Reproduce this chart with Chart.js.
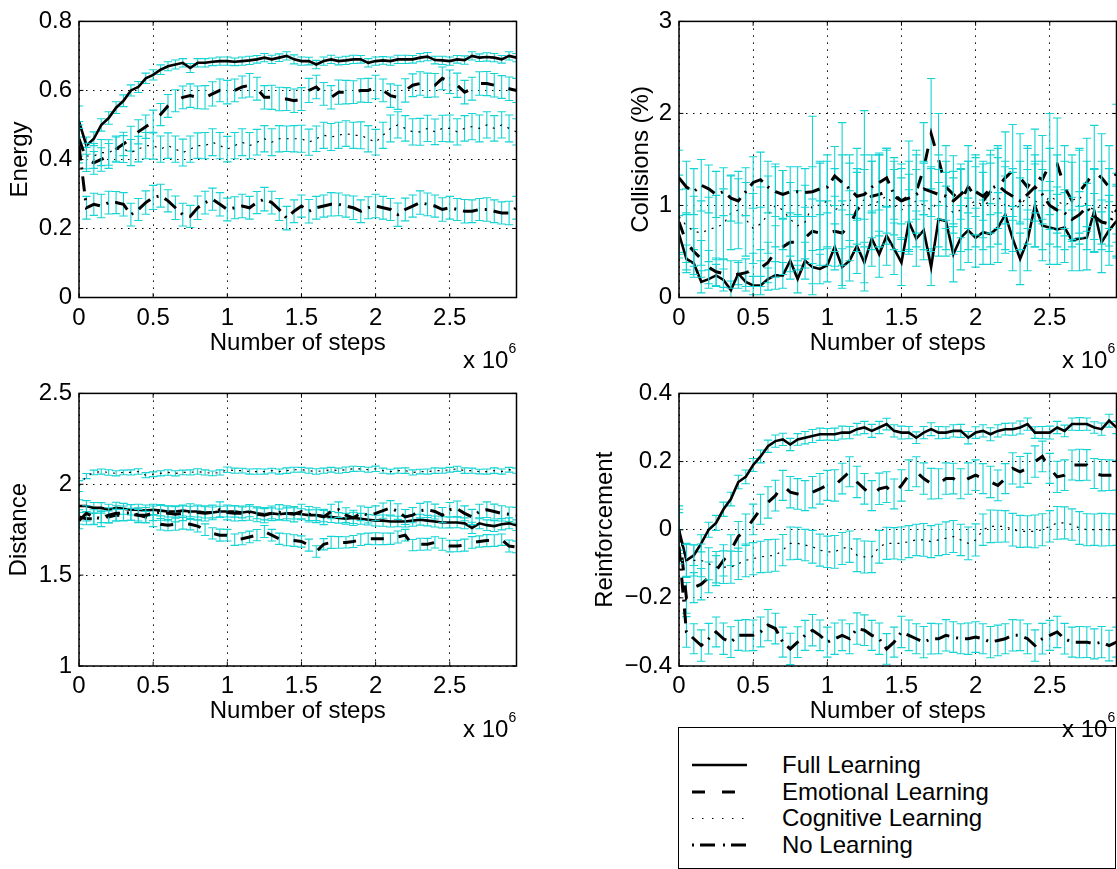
<!DOCTYPE html>
<html>
<head>
<meta charset="utf-8">
<script src="https://cdn.jsdelivr.net/npm/chart.js@4.4.1/dist/chart.umd.min.js"></script>
<style>
body { margin: 0; width: 1117px; height: 869px; overflow: hidden; position: relative; background: #fff;
       font-family: "Liberation Sans", Arial, sans-serif; color: #000; }
canvas { position: absolute; }
.exp { position: absolute; font-size: 24px; line-height: 27px; white-space: nowrap; }
.exp .sup { font-size: 14px; position: relative; top: -15px; }
#legend { position: absolute; left: 678px; top: 727px; width: 436px; height: 140px; border: 1px solid #000; background: #fff; }
.lg { position: absolute; left: 782px; font-size: 24px; line-height: 26.7px; white-space: nowrap; }
</style>
</head>
<body>
<canvas id="c1" width="540" height="372" style="left:0;top:0"></canvas>
<canvas id="c2" width="557" height="372" style="left:560px;top:0"></canvas>
<canvas id="c3" width="540" height="369" style="left:0;top:372px"></canvas>
<canvas id="c4" width="557" height="369" style="left:560px;top:372px"></canvas>

<div id="legend"></div>
<canvas id="lgLines" width="70" height="110" style="left:685px;top:750px"></canvas>
<div class="lg" style="top:751.7px">Full Learning</div>
<div class="lg" style="top:778.5px">Emotional Learning</div>
<div class="lg" style="top:805.2px">Cognitive Learning</div>
<div class="lg" style="top:831.8px">No Learning</div>

<div class="exp" style="left:463px;top:346px">x 10<span class="sup">6</span></div>
<div class="exp" style="left:1062px;top:346px">x 10<span class="sup">6</span></div>
<div class="exp" style="left:463px;top:715px">x 10<span class="sup">6</span></div>
<div class="exp" style="left:1062px;top:715px">x 10<span class="sup">6</span></div>

<script>
// x values in units of 10^6 steps
const steps = [0,0.05,0.1,0.15,0.2,0.25,0.3,0.35,0.4,0.45,0.5,0.55,0.6,0.65,0.7,0.75,0.8,0.85,0.9,0.95,
  1,1.05,1.1,1.15,1.2,1.25,1.3,1.35,1.4,1.45,1.5,1.55,1.6,1.65,1.7,1.75,1.8,1.85,1.9,1.95,
  2,2.05,2.1,2.15,2.2,2.25,2.3,2.35,2.4,2.45,2.5,2.55,2.6,2.65,2.7,2.75,2.8,2.85,2.9,2.95];
const xTicks = [0, 0.5, 1, 1.5, 2, 2.5];
const energyTicks = [0, 0.2, 0.4, 0.6, 0.8];
const collTicks = [0, 1, 2, 3];
const distTicks = [1, 1.5, 2, 2.5];
const reinfTicks = [-0.4, -0.2, 0, 0.2, 0.4];
const seriesNames = ["Full Learning", "Emotional Learning", "Cognitive Learning", "No Learning"];

// Energy
const energyFull = [0.51,0.44,0.46,0.50,0.52,0.55,0.57,0.60,0.61,0.635,0.645,0.66,0.67,0.675,0.68,0.665,0.68,0.68,0.683,0.685,
  0.685,0.683,0.685,0.687,0.69,0.695,0.69,0.695,0.70,0.69,0.685,0.685,0.675,0.685,0.69,0.685,0.687,0.69,0.69,0.68,
  0.685,0.687,0.685,0.69,0.69,0.69,0.695,0.698,0.688,0.687,0.685,0.69,0.688,0.70,0.695,0.697,0.695,0.69,0.70,0.695];
const energyEmo = [0.46,0.40,0.39,0.40,0.41,0.43,0.445,0.46,0.48,0.495,0.51,0.53,0.555,0.57,0.58,0.585,0.58,0.58,0.59,0.60,
  0.595,0.60,0.61,0.615,0.605,0.58,0.58,0.575,0.575,0.57,0.575,0.60,0.61,0.59,0.58,0.595,0.595,0.595,0.60,0.60,
  0.61,0.60,0.585,0.58,0.60,0.615,0.62,0.615,0.615,0.635,0.625,0.615,0.595,0.605,0.62,0.62,0.615,0.61,0.605,0.60];
const energyCog = [0.45,0.41,0.41,0.42,0.42,0.43,0.43,0.42,0.43,0.44,0.44,0.43,0.44,0.43,0.42,0.43,0.44,0.44,0.45,0.44,
  0.43,0.44,0.45,0.44,0.45,0.46,0.45,0.46,0.46,0.46,0.46,0.45,0.46,0.47,0.465,0.47,0.475,0.47,0.47,0.46,
  0.45,0.47,0.49,0.50,0.49,0.48,0.48,0.49,0.48,0.49,0.49,0.48,0.49,0.495,0.49,0.50,0.49,0.50,0.49,0.48];
const energyNone = [0.44,0.26,0.27,0.265,0.275,0.275,0.27,0.24,0.255,0.275,0.29,0.295,0.28,0.26,0.24,0.235,0.26,0.275,0.285,0.27,
  0.255,0.26,0.265,0.26,0.275,0.285,0.275,0.255,0.23,0.25,0.265,0.25,0.26,0.265,0.27,0.27,0.265,0.26,0.25,0.26,
  0.265,0.26,0.255,0.24,0.255,0.265,0.275,0.27,0.265,0.255,0.26,0.255,0.25,0.25,0.255,0.255,0.25,0.245,0.245,0.26];
const energyFullErr = [0.045,0.025,0.02,0.018,0.018,0.017,0.017,0.016,0.016,0.015,0.015,0.014,0.013,0.013,0.012,0.013,0.012,0.012,0.011,0.012,
  0.012,0.011,0.012,0.012,0.011,0.012,0.012,0.011,0.012,0.013,0.012,0.011,0.012,0.012,0.012,0.011,0.012,0.012,0.011,0.012,
  0.012,0.011,0.012,0.012,0.012,0.011,0.012,0.012,0.011,0.012,0.012,0.011,0.012,0.012,0.011,0.012,0.012,0.011,0.012,0.012];
const energyEmoErr = [0.05,0.035,0.033,0.034,0.036,0.035,0.034,0.036,0.035,0.034,0.033,0.032,0.033,0.032,0.033,0.034,0.033,0.034,0.035,0.033,
  0.034,0.033,0.032,0.034,0.033,0.034,0.035,0.034,0.033,0.034,0.033,0.035,0.034,0.033,0.034,0.035,0.034,0.033,0.034,0.035,
  0.034,0.033,0.034,0.035,0.034,0.033,0.034,0.035,0.034,0.033,0.034,0.035,0.034,0.033,0.034,0.035,0.034,0.033,0.034,0.035];
const energyCogErr = [0.05,0.037,0.036,0.038,0.037,0.038,0.039,0.038,0.037,0.038,0.039,0.038,0.037,0.038,0.039,0.038,0.037,0.038,0.039,0.038,
  0.037,0.038,0.039,0.038,0.037,0.038,0.039,0.038,0.037,0.038,0.039,0.038,0.037,0.038,0.039,0.038,0.037,0.038,0.039,0.038,
  0.037,0.038,0.039,0.038,0.037,0.038,0.039,0.038,0.037,0.038,0.039,0.038,0.037,0.038,0.039,0.038,0.037,0.038,0.039,0.038];
const energyNoneErr = [0.05,0.033,0.032,0.034,0.033,0.032,0.034,0.033,0.032,0.034,0.035,0.033,0.032,0.034,0.033,0.032,0.034,0.033,0.032,0.034,
  0.033,0.032,0.034,0.033,0.032,0.034,0.033,0.032,0.034,0.033,0.032,0.034,0.033,0.032,0.034,0.033,0.032,0.034,0.033,0.032,
  0.034,0.033,0.032,0.034,0.033,0.032,0.034,0.033,0.032,0.034,0.033,0.032,0.034,0.033,0.032,0.034,0.033,0.032,0.034,0.033];

// Collisions (%)
const collFull = [0.69,0.42,0.37,0.17,0.2,0.24,0.19,0.08,0.26,0.17,0.13,0.13,0.2,0.24,0.24,0.4,0.2,0.4,0.33,0.31,
  0.35,0.55,0.33,0.4,0.56,0.38,0.64,0.47,0.67,0.53,0.38,0.82,0.64,0.73,0.33,0.85,0.83,0.47,0.65,0.73,
  0.65,0.71,0.69,0.76,0.9,0.64,0.42,0.62,1.0,0.78,0.76,0.74,0.76,0.62,0.64,0.65,0.94,0.6,0.73,0.83];
const collEmo = [0.82,0.6,0.5,0.42,0.33,0.28,0.26,0.25,0.25,0.27,0.3,0.32,0.38,0.5,0.55,0.6,0.6,0.65,0.72,0.7,
  0.7,0.72,0.7,0.78,0.95,1.05,1.1,1.12,1.15,1.1,1.05,1.1,1.15,1.4,1.78,1.5,1.2,1.12,1.05,1.2,
  1.1,1.05,1.15,1.2,1.3,1.38,1.3,1.2,1.33,1.28,1.45,1.45,1.2,1.05,1.15,1.25,1.37,1.3,1.2,1.35];
const collCog = [0.88,0.78,0.72,0.7,0.74,0.76,0.8,0.92,0.95,0.85,0.75,0.8,0.9,1.0,0.95,0.85,0.78,0.82,1.0,1.0,
  1.05,0.95,1.0,1.05,1.1,1.05,1.0,1.05,1.1,1.0,0.95,1.0,1.05,1.0,0.95,1.05,1.0,0.92,0.95,1.0,
  1.05,1.0,1.05,1.1,1.0,0.95,1.0,1.1,1.05,1.0,1.1,1.05,1.0,1.05,1.1,1.0,0.95,1.0,0.95,0.9];
const collNone = [1.3,1.2,1.15,1.22,1.18,1.12,1.15,1.08,1.05,1.15,1.25,1.28,1.2,1.15,1.12,1.15,1.15,1.14,1.15,1.18,
  1.2,1.32,1.25,1.18,1.1,1.12,1.2,1.25,1.3,1.12,1.05,1.08,1.12,1.18,1.15,1.12,1.1,1.05,1.12,1.2,
  1.15,1.1,1.18,1.22,1.15,1.1,1.05,1.12,1.2,1.12,1.0,0.95,0.92,0.85,0.9,0.98,0.88,0.82,0.8,0.95];
const collFullErr = [0.2,0.15,0.15,0.12,0.1,0.12,0.12,0.1,0.12,0.1,0.1,0.1,0.12,0.15,0.14,0.2,0.15,0.2,0.18,0.16,
  0.18,0.25,0.2,0.22,0.3,0.22,0.3,0.25,0.32,0.28,0.25,0.35,0.3,0.32,0.2,0.4,0.38,0.3,0.35,0.35,
  0.32,0.35,0.33,0.38,0.42,0.35,0.28,0.33,0.45,0.38,0.4,0.38,0.38,0.33,0.35,0.35,0.45,0.33,0.38,0.4];
const collEmoErr = [0.35,0.3,0.25,0.2,0.18,0.15,0.15,0.15,0.15,0.15,0.18,0.2,0.22,0.28,0.3,0.32,0.3,0.33,0.35,0.35,
  0.35,0.38,0.35,0.38,0.45,0.5,0.45,0.45,0.45,0.42,0.4,0.6,0.45,0.5,0.6,0.5,0.45,0.42,0.4,0.45,
  0.42,0.4,0.45,0.45,0.5,0.5,0.48,0.45,0.5,0.48,0.55,0.5,0.45,0.42,0.45,0.48,0.5,0.48,0.45,0.75];
const collCogErr = [0.45,0.4,0.38,0.35,0.35,0.35,0.38,0.4,0.42,0.4,0.38,0.4,0.42,0.45,0.43,0.4,0.38,0.4,0.97,0.48,
  0.5,0.45,0.9,0.5,0.52,0.98,0.48,0.5,0.52,0.48,0.45,0.48,0.5,0.48,0.45,0.5,0.48,0.45,0.45,0.48,
  0.5,0.48,0.5,0.52,0.48,0.45,0.48,0.52,0.5,0.48,0.52,0.5,0.48,0.5,0.52,0.48,0.45,0.48,0.45,0.45];
const collNoneErr = [0.3,0.28,0.25,0.28,0.26,0.25,0.26,0.25,0.24,0.26,0.28,0.3,0.28,0.27,0.26,0.27,0.27,0.26,0.27,0.28,
  0.28,0.32,0.3,0.28,0.26,0.27,0.28,0.3,0.32,0.27,0.25,0.26,0.27,0.28,0.27,0.27,0.26,0.25,0.27,0.28,
  0.27,0.26,0.28,0.3,0.27,0.26,0.25,0.27,0.28,0.27,0.26,0.25,0.25,0.24,0.25,0.26,0.25,0.24,0.24,0.26];

// Distance
const distFull = [1.88,1.88,1.87,1.87,1.86,1.87,1.865,1.86,1.86,1.855,1.86,1.855,1.85,1.85,1.855,1.85,1.85,1.845,1.845,1.85,
  1.85,1.85,1.845,1.85,1.84,1.835,1.84,1.835,1.84,1.84,1.835,1.83,1.83,1.825,1.82,1.815,1.81,1.815,1.81,1.805,
  1.80,1.80,1.795,1.795,1.795,1.80,1.805,1.80,1.795,1.79,1.79,1.79,1.785,1.76,1.785,1.775,1.77,1.78,1.785,1.775];
const distEmo = [1.82,1.81,1.81,1.82,1.82,1.83,1.83,1.835,1.83,1.82,1.80,1.78,1.775,1.78,1.785,1.78,1.77,1.75,1.73,1.72,
  1.72,1.695,1.70,1.71,1.72,1.74,1.72,1.70,1.695,1.69,1.685,1.665,1.63,1.67,1.68,1.68,1.68,1.685,1.695,1.70,
  1.70,1.70,1.70,1.71,1.72,1.665,1.67,1.67,1.68,1.67,1.66,1.66,1.665,1.68,1.685,1.69,1.69,1.695,1.66,1.655];
const distCog = [1.99,2.045,2.065,2.07,2.065,2.06,2.065,2.065,2.07,2.05,2.055,2.06,2.065,2.06,2.065,2.065,2.07,2.065,2.06,2.065,
  2.08,2.075,2.075,2.07,2.07,2.07,2.075,2.07,2.075,2.08,2.08,2.075,2.07,2.075,2.08,2.075,2.08,2.085,2.085,2.08,
  2.085,2.075,2.07,2.075,2.075,2.065,2.07,2.07,2.075,2.075,2.08,2.085,2.075,2.075,2.07,2.07,2.075,2.07,2.08,2.075];
const distNone = [1.80,1.84,1.82,1.81,1.83,1.84,1.84,1.845,1.83,1.83,1.84,1.845,1.84,1.835,1.84,1.85,1.845,1.84,1.845,1.86,
  1.845,1.84,1.84,1.845,1.835,1.83,1.84,1.845,1.84,1.835,1.85,1.835,1.83,1.82,1.85,1.86,1.83,1.815,1.84,1.83,
  1.84,1.855,1.87,1.85,1.82,1.83,1.855,1.86,1.85,1.83,1.86,1.865,1.84,1.82,1.85,1.86,1.85,1.84,1.835,1.83];
const distFullErr = [0.035,0.03,0.03,0.029,0.03,0.031,0.03,0.029,0.03,0.031,0.03,0.029,0.03,0.031,0.03,0.029,0.03,0.031,0.03,0.029,
  0.03,0.031,0.03,0.029,0.03,0.031,0.03,0.029,0.03,0.031,0.03,0.029,0.03,0.031,0.03,0.029,0.03,0.031,0.03,0.029,
  0.03,0.031,0.03,0.029,0.03,0.031,0.03,0.029,0.03,0.031,0.03,0.029,0.03,0.031,0.03,0.029,0.03,0.031,0.03,0.029];
const distEmoErr = [0.04,0.033,0.032,0.031,0.033,0.032,0.031,0.033,0.032,0.031,0.033,0.032,0.031,0.033,0.032,0.031,0.033,0.032,0.031,0.033,
  0.032,0.031,0.033,0.032,0.031,0.033,0.032,0.031,0.033,0.032,0.031,0.033,0.032,0.031,0.033,0.032,0.031,0.033,0.032,0.031,
  0.033,0.032,0.031,0.033,0.032,0.031,0.033,0.032,0.031,0.033,0.032,0.031,0.033,0.032,0.031,0.033,0.032,0.031,0.033,0.032];
const distCogErr = [0.03,0.014,0.013,0.014,0.015,0.014,0.013,0.014,0.015,0.014,0.013,0.014,0.015,0.014,0.013,0.014,0.015,0.014,0.013,0.014,
  0.015,0.014,0.013,0.014,0.015,0.014,0.013,0.014,0.015,0.014,0.013,0.014,0.015,0.014,0.013,0.014,0.015,0.014,0.013,0.014,
  0.015,0.014,0.013,0.014,0.015,0.014,0.013,0.014,0.015,0.014,0.013,0.014,0.015,0.014,0.013,0.014,0.015,0.014,0.013,0.014];
const distNoneErr = [0.045,0.042,0.04,0.043,0.041,0.042,0.04,0.043,0.041,0.042,0.04,0.043,0.041,0.042,0.04,0.043,0.041,0.042,0.04,0.043,
  0.041,0.042,0.04,0.043,0.041,0.042,0.04,0.043,0.041,0.042,0.04,0.043,0.041,0.042,0.04,0.043,0.041,0.042,0.04,0.043,
  0.041,0.042,0.04,0.043,0.041,0.042,0.04,0.043,0.041,0.042,0.04,0.043,0.041,0.042,0.04,0.043,0.041,0.042,0.04,0.043];

// Reinforcement
const reinfFull = [0.0,-0.09,-0.075,-0.04,0.0,0.02,0.06,0.09,0.14,0.155,0.19,0.215,0.245,0.26,0.265,0.25,0.265,0.27,0.275,0.28,
  0.28,0.28,0.285,0.285,0.295,0.30,0.29,0.30,0.31,0.29,0.285,0.285,0.27,0.285,0.295,0.285,0.285,0.29,0.29,0.27,
  0.285,0.29,0.28,0.29,0.295,0.295,0.30,0.31,0.285,0.285,0.285,0.30,0.29,0.31,0.31,0.31,0.30,0.295,0.32,0.30];
const reinfEmo = [0.0,-0.2,-0.17,-0.16,-0.14,-0.12,-0.09,-0.06,-0.02,0.0,0.03,0.06,0.08,0.10,0.13,0.11,0.105,0.10,0.11,0.12,
  0.13,0.13,0.15,0.17,0.14,0.12,0.10,0.12,0.125,0.105,0.13,0.16,0.17,0.15,0.135,0.135,0.15,0.15,0.135,0.15,
  0.16,0.15,0.14,0.13,0.15,0.18,0.17,0.18,0.20,0.215,0.18,0.155,0.16,0.19,0.19,0.19,0.165,0.16,0.16,0.16];
const reinfCog = [-0.02,-0.09,-0.09,-0.09,-0.10,-0.11,-0.11,-0.11,-0.10,-0.09,-0.085,-0.08,-0.077,-0.075,-0.06,-0.04,-0.04,-0.045,-0.05,-0.06,
  -0.065,-0.065,-0.055,-0.05,-0.075,-0.08,-0.08,-0.05,-0.04,-0.04,-0.04,-0.035,-0.03,-0.03,-0.035,-0.03,-0.025,-0.02,-0.03,-0.04,
  -0.03,0.0,0.01,0.01,0.01,0.0,-0.005,-0.005,-0.005,0.0,0.01,0.02,0.02,0.015,0.005,0.0,0.0,0.0,0.0,0.0];
const reinfNone = [-0.05,-0.30,-0.32,-0.34,-0.32,-0.30,-0.32,-0.33,-0.31,-0.31,-0.31,-0.30,-0.28,-0.29,-0.33,-0.35,-0.33,-0.31,-0.295,-0.31,
  -0.33,-0.32,-0.31,-0.32,-0.29,-0.295,-0.31,-0.32,-0.35,-0.33,-0.30,-0.31,-0.32,-0.33,-0.32,-0.32,-0.31,-0.315,-0.32,-0.32,
  -0.315,-0.32,-0.33,-0.325,-0.32,-0.31,-0.31,-0.32,-0.34,-0.32,-0.31,-0.30,-0.32,-0.33,-0.33,-0.33,-0.335,-0.33,-0.34,-0.33];
const reinfFullErr = [0.07,0.05,0.03,0.025,0.022,0.022,0.021,0.02,0.02,0.02,0.019,0.019,0.018,0.018,0.018,0.018,0.017,0.018,0.019,0.018,
  0.017,0.018,0.019,0.018,0.017,0.018,0.019,0.018,0.017,0.018,0.019,0.018,0.017,0.018,0.019,0.018,0.017,0.018,0.019,0.018,
  0.017,0.018,0.019,0.018,0.017,0.018,0.019,0.018,0.017,0.018,0.019,0.018,0.017,0.018,0.019,0.018,0.017,0.018,0.019,0.018];
const reinfEmoErr = [0.06,0.045,0.044,0.046,0.045,0.044,0.046,0.045,0.044,0.046,0.045,0.044,0.046,0.045,0.044,0.046,0.045,0.044,0.046,0.045,
  0.044,0.046,0.045,0.044,0.046,0.045,0.044,0.046,0.045,0.044,0.046,0.045,0.044,0.046,0.045,0.044,0.046,0.045,0.044,0.046,
  0.045,0.044,0.046,0.045,0.044,0.046,0.045,0.044,0.046,0.045,0.044,0.046,0.045,0.044,0.046,0.045,0.044,0.046,0.045,0.044];
const reinfCogErr = [0.07,0.047,0.046,0.048,0.047,0.046,0.048,0.047,0.046,0.048,0.047,0.046,0.048,0.047,0.046,0.048,0.047,0.046,0.048,0.047,
  0.046,0.048,0.047,0.046,0.048,0.047,0.046,0.048,0.047,0.046,0.048,0.047,0.046,0.048,0.047,0.046,0.048,0.047,0.046,0.048,
  0.047,0.046,0.048,0.047,0.046,0.048,0.047,0.046,0.048,0.047,0.046,0.048,0.047,0.046,0.048,0.047,0.046,0.048,0.047,0.046];
const reinfNoneErr = [0.05,0.045,0.044,0.046,0.045,0.044,0.046,0.045,0.044,0.046,0.045,0.044,0.046,0.045,0.044,0.046,0.045,0.044,0.046,0.045,
  0.044,0.046,0.045,0.044,0.046,0.045,0.044,0.046,0.045,0.044,0.046,0.045,0.044,0.046,0.045,0.044,0.046,0.045,0.044,0.046,
  0.045,0.044,0.046,0.045,0.044,0.046,0.045,0.044,0.046,0.045,0.044,0.046,0.045,0.044,0.046,0.045,0.044,0.046,0.045,0.044];

const barColor = "rgb(20,212,212)";
const font = { family: '"Liberation Sans", Arial, sans-serif', size: 24 };
const lineStyles = [
  { width: 2.6, dash: [] },
  { width: 3, dash: [13, 15] },
  { width: 1.2, dash: [2, 6] },
  { width: 3, dash: [15, 7, 2, 7] }
];
const fmt = v => String(v).replace("-", "\u2212");

// error bars under each line, plus the matlab-style box and inner ticks
const errorBox = {
  id: "errorBox",
  beforeDatasetDraw(chart, args) {
    const ds = chart.data.datasets[args.index];
    const xs = chart.scales.x, ys = chart.scales.y, a = chart.chartArea, ctx = chart.ctx;
    ctx.save();
    ctx.beginPath();
    ctx.rect(a.left, a.top, a.right - a.left, a.bottom - a.top);
    ctx.clip();
    ctx.strokeStyle = barColor;
    ctx.lineWidth = 1.1;
    ctx.beginPath();
    ds.data.forEach((p, i) => {
      const px = xs.getPixelForValue(p.x);
      const t = ys.getPixelForValue(p.y + ds.err[i]);
      const b = ys.getPixelForValue(p.y - ds.err[i]);
      ctx.moveTo(px, t); ctx.lineTo(px, b);
      ctx.moveTo(px - 4.2, t); ctx.lineTo(px + 4.2, t);
      ctx.moveTo(px - 4.2, b); ctx.lineTo(px + 4.2, b);
    });
    ctx.stroke();
    ctx.restore();
  },
  afterDraw(chart) {
    const xs = chart.scales.x, ys = chart.scales.y, a = chart.chartArea, ctx = chart.ctx;
    ctx.save();
    ctx.strokeStyle = "#000";
    ctx.lineWidth = 1;
    ctx.beginPath();
    xs.ticks.forEach(t => {
      const px = xs.getPixelForValue(t.value);
      ctx.moveTo(px, a.bottom); ctx.lineTo(px, a.bottom - 4.4);
      ctx.moveTo(px, a.top); ctx.lineTo(px, a.top + 4.4);
    });
    ys.ticks.forEach(t => {
      const py = ys.getPixelForValue(t.value);
      ctx.moveTo(a.left, py); ctx.lineTo(a.left + 4.4, py);
      ctx.moveTo(a.right, py); ctx.lineTo(a.right - 4.4, py);
    });
    ctx.stroke();
    ctx.lineWidth = 1.5;
    ctx.strokeRect(a.left, a.top, a.right - a.left, a.bottom - a.top);
    ctx.restore();
  }
};

function makePanel(id, means, errs, yTicks, yTitle, box) {
  const datasets = means.map((vals, k) => ({
    label: seriesNames[k],
    data: steps.map((s, i) => ({ x: s, y: vals[i] })),
    err: errs[k],
    borderColor: "#000",
    borderWidth: lineStyles[k].width,
    borderDash: lineStyles[k].dash,
    pointRadius: 0,
    fill: false,
    tension: 0,
    order: 4 - k
  }));
  return new Chart(document.getElementById(id), {
    type: "line",
    data: { datasets },
    options: {
      responsive: false,
      animation: false,
      layout: { padding: { top: box.padTop, right: box.padRight, left: 0, bottom: 0 } },
      plugins: { legend: { display: false }, tooltip: { enabled: false } },
      scales: {
        x: {
          type: "linear", min: 0, max: 2.95,
          afterFit: s => { s.height = box.xHeight; },
          afterBuildTicks: s => { s.ticks = xTicks.map(v => ({ value: v })); },
          ticks: { padding: 6, color: "#000", font, maxRotation: 0, autoSkip: false, callback: fmt },
          grid: { color: "#000", lineWidth: 1, drawTicks: false },
          border: { display: false, dash: [1.5, 5.5] },
          title: { display: true, text: "Number of steps", color: "#000", font, padding: { top: 0, bottom: box.xTitlePad } }
        },
        y: {
          type: "linear", min: yTicks[0], max: yTicks[yTicks.length - 1],
          afterFit: s => { s.width = box.yWidth; },
          afterBuildTicks: s => { s.ticks = yTicks.map(v => ({ value: v })); },
          ticks: { padding: 7, color: "#000", font, autoSkip: false, callback: fmt },
          grid: { color: "#000", lineWidth: 1, drawTicks: false },
          border: { display: false, dash: [1.5, 5.5] },
          title: { display: true, text: yTitle, color: "#000", font, padding: { top: box.yTitlePad, bottom: 0 } }
        }
      }
    },
    plugins: [errorBox]
  });
}

makePanel("c1", [energyFull, energyEmo, energyCog, energyNone],
  [energyFullErr, energyEmoErr, energyCogErr, energyNoneErr], energyTicks, "Energy",
  { padTop: 19.5, padRight: 23.5, yWidth: 79, xHeight: 74.5, yTitlePad: 6.3, xTitlePad: 14.6 });
makePanel("c2", [collFull, collEmo, collCog, collNone],
  [collFullErr, collEmoErr, collCogErr, collNoneErr], collTicks, "Collisions (%)",
  { padTop: 19.5, padRight: 0.5, yWidth: 119, xHeight: 74.5, yTitlePad: 67.1, xTitlePad: 14.6 });
makePanel("c3", [distFull, distEmo, distCog, distNone],
  [distFullErr, distEmoErr, distCogErr, distNoneErr], distTicks, "Distance",
  { padTop: 16, padRight: 23.5, yWidth: 79, xHeight: 75, yTitlePad: 5.2, xTitlePad: 15.1 });
makePanel("c4", [reinfFull, reinfEmo, reinfCog, reinfNone],
  [reinfFullErr, reinfEmoErr, reinfCogErr, reinfNoneErr], reinfTicks, "Reinforcement",
  { padTop: 16, padRight: 0.5, yWidth: 119, xHeight: 75, yTitlePad: 30.5, xTitlePad: 15.1 });

// legend line samples
const lg = document.getElementById("lgLines").getContext("2d");
const legendDash = [[], [13, 17], [1.5, 8.5], [2, 6, 15, 8]];
const legendY = [15, 42, 68.5, 95];
lineStyles.forEach((st, k) => {
  lg.beginPath();
  lg.strokeStyle = "#000";
  lg.lineWidth = st.width;
  lg.setLineDash(legendDash[k]);
  lg.moveTo(7, legendY[k]);
  lg.lineTo(62, legendY[k]);
  lg.stroke();
});
</script>
</body>
</html>
